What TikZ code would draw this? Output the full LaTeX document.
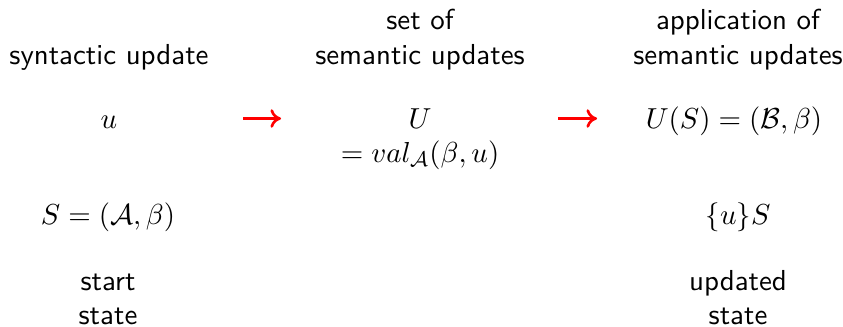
\documentclass[tikz,border=0pt]{standalone}
\usetikzlibrary{arrows.meta}
\begin{document}
\begin{tikzpicture}[x=0.3788pt,y=-0.3788pt,
  every node/.style={font=\fontsize{10.95pt}{13pt}\selectfont},
  lbl/.style={font=\fontsize{10.95pt}{13pt}\selectfont\sffamily, inner sep=0pt, anchor=base},
  mth/.style={inner sep=0pt, anchor=base},
  redarrow/.style={red, line width=1pt, -{To[length=4pt,width=7pt]}}]
\useasboundingbox (0,0) rectangle (843,326);
% headings
\node[lbl] (h1) at (109,64) {syntactic update};
\node[lbl] (h2a) at (420,29) {set of};
\node[lbl] (h2b) at (420,64) {semantic updates};
\node[lbl] (h3a) at (738,29) {application of};
\node[lbl] (h3b) at (738,64) {semantic updates};
% row 2
\node[mth] (u) at (109,128) {$u$};
\node[mth] (U) at (420,128) {$U$};
\node[mth] (val) at (420,162) {$=val_{\mathcal{A}}(\beta,u)$};
\node[mth] (US) at (734,128) {$U(S)=(\mathcal{B},\beta)$};
% arrows
\coordinate (a1s) at (243,118.5);
\coordinate (a1e) at (281,118.5);
\coordinate (a2s) at (558,118.5);
\coordinate (a2e) at (597,118.5);
\draw[redarrow] (a1s) -- (a1e);
\draw[redarrow] (a2s) -- (a2e);
% row 3
\node[mth] (S) at (108,224) {$S=(\mathcal{A},\beta)$};
\node[mth] (uS) at (738,224) {$\{u\}S$};
% row 4
\node[lbl] (st1) at (108,290) {start};
\node[lbl] (st2) at (108,324) {state};
\node[lbl] (up1) at (738,290) {updated};
\node[lbl] (up2) at (738,324) {state};
\end{tikzpicture}
\end{document}
